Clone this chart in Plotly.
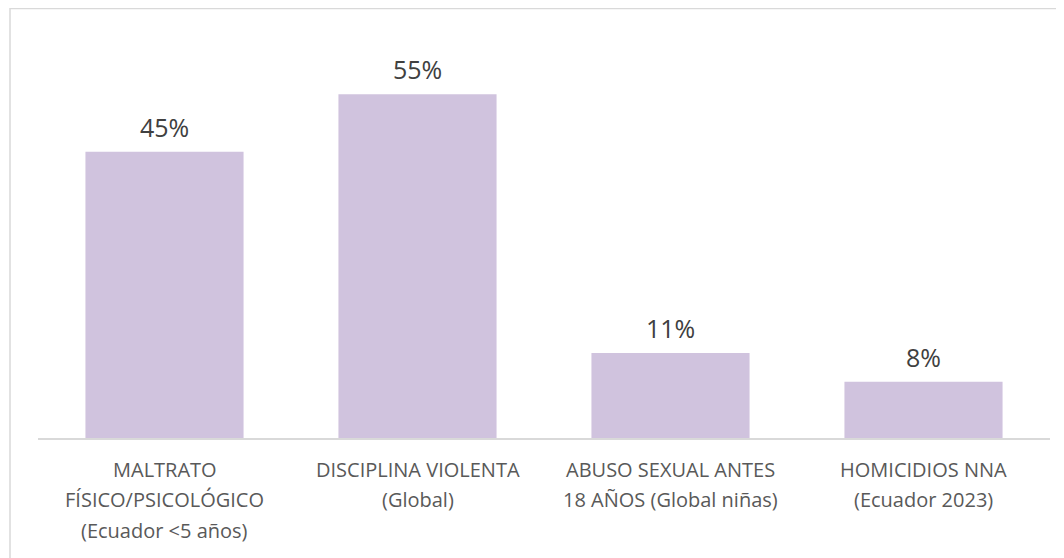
import plotly.graph_objects as go

categories = ["MALTRATO", "DISCIPLINA", "ABUSO", "HOMICIDIOS"]
category_lines = [
    ["MALTRATO", "FÍSICO/PSICOLÓGICO", "(Ecuador <5 años)"],
    ["DISCIPLINA VIOLENTA", "(Global)"],
    ["ABUSO SEXUAL ANTES", "18 AÑOS (Global niñas)"],
    ["HOMICIDIOS NNA", "(Ecuador 2023)"],
]
values = [45.8, 55.0, 13.6, 9.0]
value_labels = ["45%", "55%", "11%", "8%"]

# page body has an 8px default margin
W, H = 1056, 550
ml, mr, mt, mb = 30, 14, 22, 120
plot_h = H - mt - mb
plot_w = W - ml - mr

fig = go.Figure()
fig.add_trace(go.Bar(
    x=categories, y=values,
    marker=dict(color="#D0C3DE", line=dict(width=0)),
    hoverinfo="skip",
))

font_fam = "Open Sans, Noto Sans, sans-serif"
annotations = []
for cat, v, lab in zip(categories, values, value_labels):
    annotations.append(dict(
        x=cat, y=v, xref="x", yref="y", text=lab, showarrow=False,
        yanchor="middle", yshift=25,
        font=dict(family=font_fam, size=25, color="#404040"),
    ))
for cat, lines in zip(categories, category_lines):
    for i, line in enumerate(lines):
        annotations.append(dict(
            x=cat, y=0, xref="x", yref="paper", text=line, showarrow=False,
            yanchor="middle", yshift=-(31 + 30.5 * i),
            font=dict(family=font_fam, size=20, color="#595959"),
        ))

fig.update_layout(
    width=W, height=H,
    margin=dict(l=ml, r=mr, t=mt, b=mb),
    paper_bgcolor="white", plot_bgcolor="white",
    bargap=0.375,
    showlegend=False,
    annotations=annotations,
    xaxis=dict(showticklabels=False, showgrid=False, zeroline=False,
               showline=True, linecolor="#D9D9D9", linewidth=1.5,
               ticks="", range=[-0.5, 3.5], fixedrange=True),
    yaxis=dict(visible=False, range=[0, plot_h / 6.25], fixedrange=True),
    shapes=[dict(
        type="rect", xref="paper", yref="paper",
        x0=(2 - ml) / plot_w, x1=1.2,
        y0=-0.6, y1=(H - mb - 0.5) / plot_h,
        line=dict(color="#D9D9D9", width=1.5), fillcolor="rgba(0,0,0,0)",
        layer="below",
    )],
)

fig.write_html("out.html", config={"displayModeBar": False})
